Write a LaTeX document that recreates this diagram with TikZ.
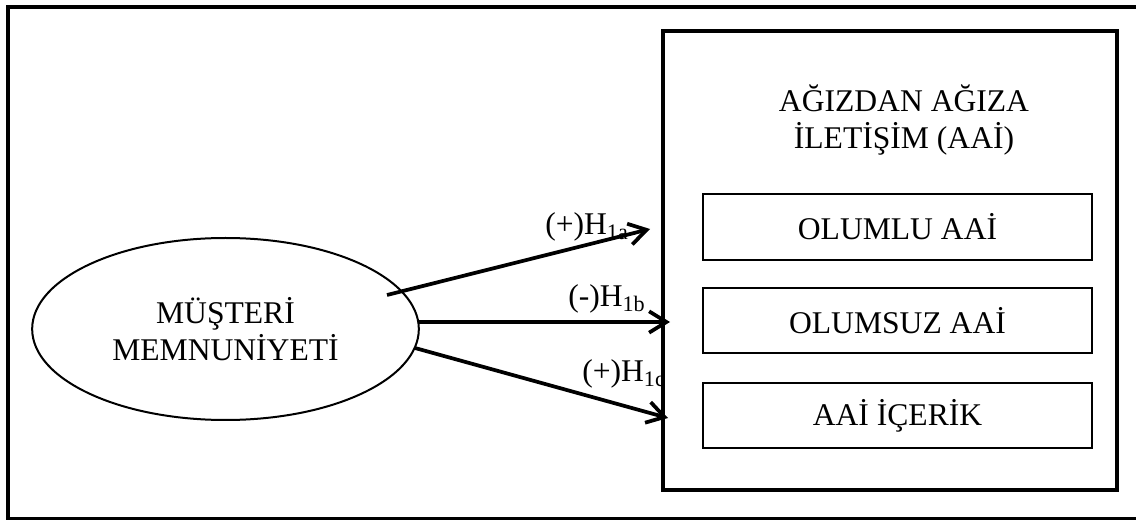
\documentclass[tikz,border=0pt]{standalone}
\usepackage{fontspec}
\setmainfont{Liberation Serif}
\usetikzlibrary{shapes.geometric,arrows.meta}

\begin{document}
\begin{tikzpicture}[x=0.75pt, y=-0.75pt, font=\fontsize{23.7}{27.8}\selectfont,
		kutu/.style={draw, line width=1.5pt, minimum width=291.75pt, minimum height=49pt, inner sep=0pt},
		ok/.style={-{Straight Barb[length=13pt,width=16pt]}, line width=2.8pt},
		etiket/.style={anchor=base west, inner sep=0pt}]
	\useasboundingbox (0,0) rectangle (1136,520);
	\draw[line width=3pt] (8,7) rectangle (1150,519);
	% sol taraf
	\node[ellipse, draw, line width=1.5pt, inner sep=0pt, minimum width=290pt, minimum height=136.5pt, align=center] (mm) at (225.5,329) {MÜŞTERİ\\MEMNUNİYETİ};
	% etiketler
	\node[etiket] (h1a) at (545,235) {(+)H\textsubscript{1a}};
	\node[etiket] (h1b) at (568,307) {(-)H\textsubscript{1b}};
	\node[etiket] (h1c) at (582,382) {(+)H\textsubscript{1c}};
	% sag taraf
	\node[draw, line width=3pt, minimum width=340.5pt, minimum height=344.25pt] (aai) at (890,260.5) {};
	\node[align=center] (baslik) at (904,120) {AĞIZDAN AĞIZA\\İLETİŞİM (AAİ)};
	\node[kutu] (olumlu) at (897.5,227) {OLUMLU AAİ};
	\node[kutu] (olumsuz) at (897.5,320.5) {OLUMSUZ AAİ};
	\node[kutu] (icerik) at (897.5,415.5) {AAİ İÇERİK};
	% oklar
	\coordinate (a1) at (387,295);
	\coordinate (b1) at (650,229);
	\coordinate (a2) at (418,322);
	\coordinate (b2) at (670,322);
	\coordinate (a3) at (415,348);
	\coordinate (b3) at (668,418);
	\draw[ok] (a1) -- (b1);
	\draw[ok] (a2) -- (b2);
	\draw[ok] (a3) -- (b3);
\end{tikzpicture}
\end{document}
